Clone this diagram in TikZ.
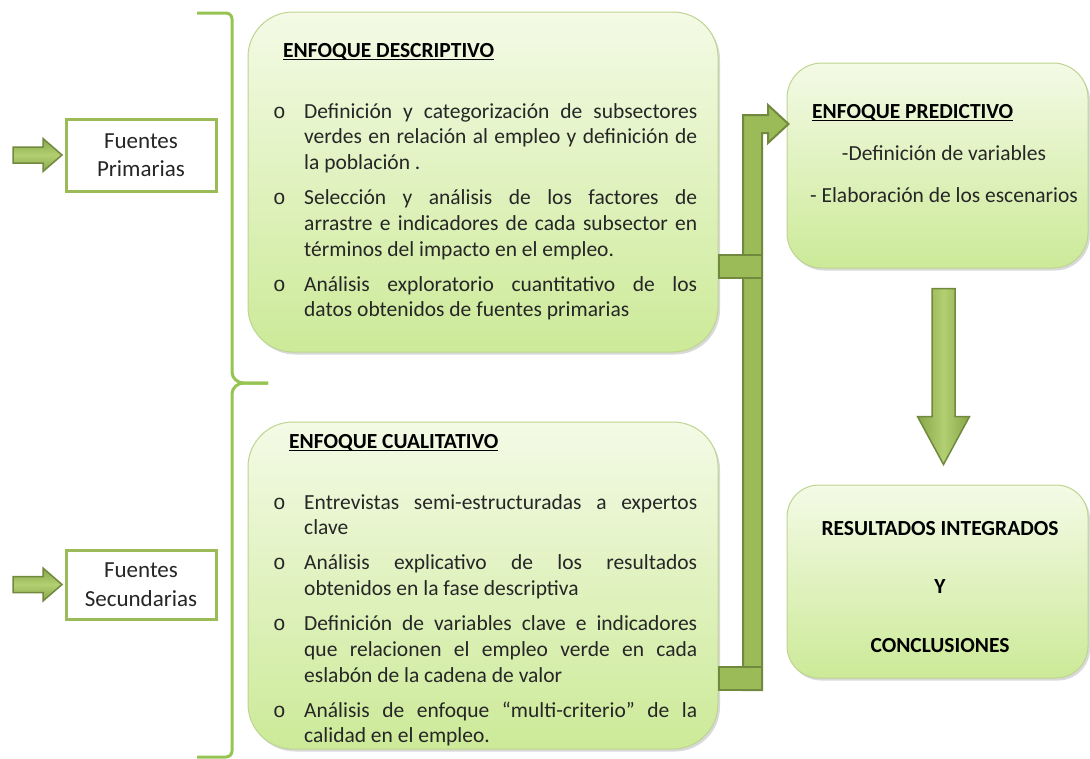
\documentclass[tikz,border=0pt]{standalone}
\usepackage{fontspec}
\setmainfont{Carlito}
\newfontfamily\bulletfont{Liberation Mono}
\usetikzlibrary{calc}
\usetikzlibrary{shadows}
\definecolor{barfill}{RGB}{155,187,89}
\definecolor{barline}{RGB}{113,137,63}
\definecolor{bracegreen}{RGB}{150,196,82}
\definecolor{boxtop}{RGB}{244,250,230}
\definecolor{boxbot}{RGB}{204,234,152}
\definecolor{boxedge}{RGB}{190,212,145}
\definecolor{arrowlt}{RGB}{178,208,113}
\definecolor{arrowdk}{RGB}{135,166,72}
\definecolor{textgray}{RGB}{38,38,38}
\newcommand{\bodyfont}{\fontsize{21.5}{25.7}\selectfont}
\newcommand{\srcfont}{\fontsize{23}{28.5}\selectfont}
\newcommand{\ulbold}[1]{\setbox0\hbox{\bfseries #1}\rlap{\vrule width\wd0 height -1.8pt depth 3.4pt}\box0}
\newcommand{\vitem}[1]{\par\hangindent=31pt\hangafter=1\noindent\strut\makebox[31pt][l]{\bulletfont\fontsize{21}{20}\selectfont o}#1\par}
\newcommand{\harrow}[2]{%
    \draw[blockarrow,top color=arrowdk,bottom color=arrowdk,middle color=arrowlt] let \p1=(#1), \p2=(#2) in
        (\x1,{\y1+8pt}) -- ({\x2-19pt},{\y1+8pt}) -- ({\x2-19pt},{\y1+16.5pt}) -- (\x2,\y1)
        -- ({\x2-19pt},{\y1-16.5pt}) -- ({\x2-19pt},{\y1-8pt}) -- (\x1,{\y1-8pt}) -- cycle;%
}
\newcommand{\varrow}[2]{%
    \draw[blockarrow,left color=arrowdk,right color=arrowdk,middle color=arrowlt] let \p1=(#1), \p2=(#2) in
        ({\x1-11.5pt},\y1) -- ({\x1-11.5pt},{\y2+48pt}) -- ({\x1-26pt},{\y2+48pt}) -- (\x1,\y2)
        -- ({\x1+26pt},{\y2+48pt}) -- ({\x1+11.5pt},{\y2+48pt}) -- ({\x1+11.5pt},\y1) -- cycle;%
}

\begin{document}
\begin{tikzpicture}[x=1pt,y=-1pt,
        enfoque/.style={draw=boxedge,line width=1pt,top color=boxtop,bottom color=boxbot,
            drop shadow={opacity=0.3,shadow xshift=2pt,shadow yshift=-2.5pt}},
        srcbox/.style={draw=barfill,line width=3pt,fill=white,align=center,font=\srcfont,text=textgray,
            minimum width=150pt},
        titletext/.style={anchor=base west,inner sep=0pt,font=\bodyfont},
        listtext/.style={anchor=north west,inner sep=0pt,text width=424pt,align=justify,font=\bodyfont,text=textgray},
        linetext/.style={anchor=base,inner sep=0pt,font=\bodyfont,text=textgray},
        resulttext/.style={anchor=base,inner sep=0pt,font=\bodyfont\bfseries},
        blockarrow/.style={draw=barline,line width=1.5pt,line join=miter},
        bar/.style={draw=barline,fill=barfill,line width=2pt},
        bracel/.style={draw=bracegreen,line width=3pt}]
    \useasboundingbox (0,0) rectangle (1090,758);

    % brace
    \draw[bracel] (197,13) -- (226,13) to[out=0,in=90] (232,19) -- (232,372) to[out=-90,in=180] (244,383) -- (268,383);
    \draw[bracel] (268,383) -- (244,383) to[out=180,in=90] (232,394) -- (232,751) to[out=-90,in=0] (226,757) -- (197,757);

    % sources
    \node[srcbox,minimum height=72pt] (fprim) at (141,155) {Fuentes\\Primarias};
    \node[srcbox,minimum height=69pt] (fsec) at (141,584.5) {Fuentes\\Secundarias};
    \coordinate (srcP) at (13,0 |- fprim.west);
    \coordinate (srcS) at (13,0 |- fsec.west);
    \harrow{srcP}{$(fprim.west)+(-2.5,0)$}
    \harrow{srcS}{$(fsec.west)+(-2.5,0)$}

    % boxes
    \node[enfoque,rounded corners=45pt,minimum width=470pt,minimum height=340pt] (desc) at (483,182) {};
    \node[enfoque,rounded corners=45pt,minimum width=470pt,minimum height=327pt] (cual) at (483,585.5) {};
    \node[enfoque,rounded corners=35pt,minimum width=301pt,minimum height=205pt] (pred) at (937.5,165.5) {};
    \node[enfoque,rounded corners=32pt,minimum width=301pt,minimum height=193pt] (res) at (937.5,581.5) {};

    % connectors
    \draw[bar] (743,690) -- (743,115) -- (768,115) -- (768,105) -- ($(pred.west |- 0,124)+(2,0)$)
        -- (768,143) -- (768,133) -- (762,133) -- (762,690) -- cycle;
    \draw[bar] (desc.east |- 0,255) rectangle (762,278);
    \draw[bar] (cual.east |- 0,667) rectangle (762,690);
    \varrow{$(pred.south)+(6,20)$}{$(res.north)+(6,-20)$}

    % texts
    \node[titletext] (desctitle) at (283,57) {\ulbold{ENFOQUE DESCRIPTIVO}};
    \node[listtext] (desclist) at (273,83) {\hyphenpenalty=10000\tolerance=10000\setlength{\parskip}{9.3pt}%
        \vitem{Definición y categorización de subsectores\linebreak verdes en relación al empleo y definición de\linebreak la población .}
        \vitem{Selección y análisis de los factores de\linebreak arrastre e indicadores de cada subsector en\linebreak términos del impacto en el empleo.}
        \vitem{Análisis exploratorio cuantitativo de los\linebreak datos obtenidos de fuentes primarias}};

    \node[titletext] (cualtitle) at (289,448) {\ulbold{ENFOQUE CUALITATIVO}};
    \node[listtext] (cuallist) at (273,474) {\hyphenpenalty=10000\tolerance=10000\setlength{\parskip}{9.3pt}%
        \vitem{Entrevistas semi-estructuradas a expertos\linebreak clave}
        \vitem{Análisis explicativo de los resultados\linebreak obtenidos en la fase descriptiva}
        \vitem{Definición de variables clave e indicadores\linebreak que relacionen el empleo verde en cada\linebreak eslabón de la cadena de valor}
        \vitem{Análisis de enfoque “multi-criterio” de la\linebreak calidad en el empleo.}};

    \node[titletext] (predtitle) at (812,118) {\ulbold{ENFOQUE PREDICTIVO}};
    \node[linetext] (predvar) at (944,160) {-Definición de variables};
    \node[linetext] (predesc) at (944,202) {- Elaboración de los escenarios};

    \node[resulttext] (resA) at (940,535) {RESULTADOS INTEGRADOS};
    \node[resulttext] (resB) at (940,593) {Y};
    \node[resulttext] (resC) at (940,652) {CONCLUSIONES};
\end{tikzpicture}
\end{document}
